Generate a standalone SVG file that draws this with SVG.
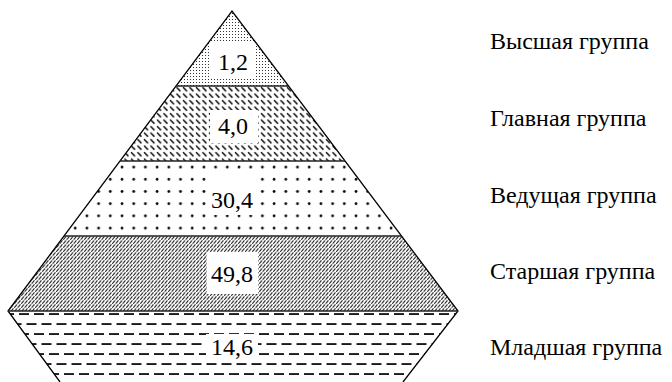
<svg xmlns="http://www.w3.org/2000/svg" width="672" height="382" viewBox="0 0 672 382">
<style>
.edge{fill:none;stroke:#000;stroke-width:1.3}
.sep{stroke:#222;stroke-width:1.6}
.box{fill:#fff}
.num{font-family:"Liberation Serif","Times New Roman",serif;font-size:24px;fill:#000;text-anchor:middle}
.lbl{font-family:"Liberation Serif","Times New Roman",serif;font-size:24px;fill:#000}
</style>
<defs>
<pattern id="pFine" width="3" height="3" patternUnits="userSpaceOnUse"><rect x="1" y="1" width="1" height="1" fill="#333"/></pattern>
<pattern id="pBack" width="6.5" height="6.5" patternUnits="userSpaceOnUse" y="86"><line x1="1" y1="1.2" x2="5" y2="5.2" stroke="#000" stroke-width="1.4"/></pattern>
<pattern id="pDots" width="11.7" height="12.2" patternUnits="userSpaceOnUse" x="2" y="161"><circle cx="3" cy="6" r="1.4" fill="#000"/></pattern>
<pattern id="pFwd" width="3.5" height="4" patternUnits="userSpaceOnUse" y="236"><line x1="0.3" y1="3.7" x2="3" y2="0.4" stroke="#000" stroke-width="0.9"/></pattern>
<pattern id="pDash" width="15" height="20" patternUnits="userSpaceOnUse" x="4" y="310"><rect x="0" y="3.2" width="10" height="1.7" fill="#000"/><rect x="7.5" y="13.2" width="7.5" height="1.7" fill="#000"/><rect x="0" y="13.2" width="2.5" height="1.7" fill="#000"/></pattern>
</defs>
<g id="layer-vysshaya">
<polygon points="232,11 288.5,86 176,86" fill="url(#pFine)"/>
<rect class="box" x="210" y="42" width="45" height="35"/>
<text class="num" x="233" y="70">1,2</text>
</g>
<g id="layer-glavnaya">
<polygon points="176,86 288.5,86 345,161 120,161" fill="url(#pBack)"/>
<rect class="box" x="210" y="110" width="48" height="33"/>
<text class="num" x="233" y="134">4,0</text>
</g>
<g id="layer-vedushchaya">
<polygon points="120,161 345,161 401.5,236 64,236" fill="url(#pDots)"/>
<rect class="box" x="206" y="173" width="52" height="42"/>
<text class="num" x="232" y="208">30,4</text>
</g>
<g id="layer-starshaya">
<polygon points="64,236 401.5,236 458,311 8,311" fill="url(#pFwd)"/>
<rect class="box" x="207" y="252" width="51" height="42"/>
<text class="num" x="232" y="282">49,8</text>
</g>
<g id="layer-mladshaya">
<polygon points="8,311 458,311 403,382 60,382" fill="url(#pDash)"/>
<rect class="box" x="206" y="334" width="52" height="28"/>
<text class="num" x="232" y="355">14,6</text>
</g>
<g id="connectors">
<polyline class="edge" points="60,382 8,311 232,11 458,311 403,382"/>
<line class="sep" x1="176" y1="86" x2="288.5" y2="86"/>
<line class="sep" x1="120" y1="161" x2="345" y2="161"/>
<line class="sep" x1="64" y1="236" x2="401.5" y2="236"/>
<line class="sep" x1="8" y1="311" x2="458" y2="311" stroke-width="2"/>
</g>
<g id="labels">
<text class="lbl" x="490" y="49">Высшая группа</text>
<text class="lbl" x="490" y="126">Главная группа</text>
<text class="lbl" x="490" y="203">Ведущая группа</text>
<text class="lbl" x="490" y="279">Старшая группа</text>
<text class="lbl" x="490" y="355">Младшая группа</text>
</g>
</svg>
